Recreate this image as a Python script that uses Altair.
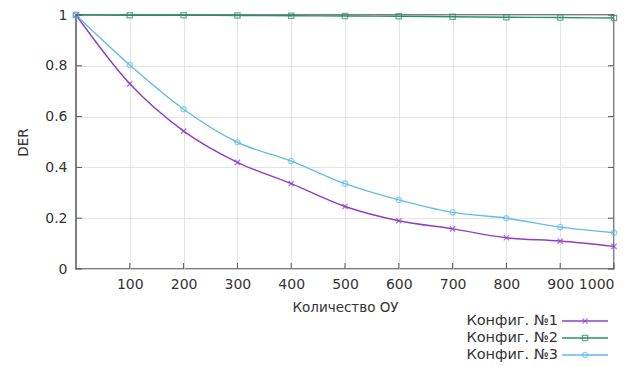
import altair as alt
import pandas as pd

x_vals = [0, 100, 200, 300, 400, 500, 600, 700, 800, 900, 1000]
cfg1 = [1.0, 0.729, 0.543, 0.42, 0.336, 0.246, 0.19, 0.158, 0.123, 0.11, 0.089]
cfg2 = [1.0, 0.999, 0.999, 0.998, 0.997, 0.996, 0.995, 0.993, 0.991, 0.99, 0.988]
cfg3 = [1.0, 0.803, 0.629, 0.499, 0.425, 0.336, 0.272, 0.223, 0.2, 0.165, 0.143]
series = ["Конфиг. №1", "Конфиг. №2", "Конфиг. №3"]
colors = ["#8e3fc6", "#2a8f70", "#62bde6"]
shapes = ["M-1,-1L1,1M-1,1L1,-1", "square", "circle"]
x_ticks = [100, 200, 300, 400, 500, 600, 700, 800, 900, 1000]
y_ticks = [0, 0.2, 0.4, 0.6, 0.8, 1]

rows = []
for name, vals in zip(series, [cfg1, cfg2, cfg3]):
    for xv, yv in zip(x_vals, vals):
        rows.append({"x": xv, "y": yv, "s": name})
df = pd.DataFrame(rows)
leg = pd.DataFrame({"s": series})
yt = pd.DataFrame({"v": y_ticks})
xt = pd.DataFrame({"v": x_ticks})

color = alt.Color("s:N", scale=alt.Scale(domain=series, range=colors), legend=None)
shape = alt.Shape("s:N", scale=alt.Scale(domain=series, range=shapes), legend=None)

xs = alt.X("x:Q", scale=alt.Scale(domain=[0, 1000], nice=False),
           axis=alt.Axis(values=x_ticks, format="d", title="Количество ОУ", ticks=False,
                         labelPadding=8, titlePadding=9, domain=False,
                         gridColor="#dddddd", gridWidth=0.8))
ys = alt.Y("y:Q", scale=alt.Scale(domain=[0, 1], nice=False),
           axis=alt.Axis(values=y_ticks, format="~g", title="DER", ticks=False,
                         labelPadding=9, titlePadding=14, domain=False,
                         gridColor="#dddddd", gridWidth=0.8))

base = alt.Chart(df)
lines = base.mark_line(interpolate="monotone", strokeWidth=1.4).encode(x=xs, y=ys, color=color)
pts = base.mark_point(size=28, strokeWidth=1.3).encode(x="x:Q", y="y:Q", color=color, shape=shape)

# inward tick marks
lt = alt.Chart(yt).mark_rule(color="#555555", strokeWidth=1).encode(
    y=alt.Y("v:Q"), x=alt.value(0), x2=alt.value(6))
rt = alt.Chart(yt).mark_rule(color="#555555", strokeWidth=1).encode(
    y=alt.Y("v:Q"), x=alt.value(532), x2=alt.value(538))
bt = alt.Chart(xt).mark_rule(color="#555555", strokeWidth=1).encode(
    x=alt.X("v:Q"), y=alt.value(254), y2=alt.value(248))

main = alt.layer(lines, pts, lt, rt, bt)

ly = alt.Y("s:N", scale=alt.Scale(domain=series, type="point", range=[306, 340], padding=0), axis=None)
ltext = alt.Chart(leg).mark_text(align="right", baseline="middle", fontSize=14.5,
                                 font="DejaVu Sans", color="#333333").encode(
    y=ly, x=alt.value(482), text="s:N")
lrule = alt.Chart(leg).mark_rule(strokeWidth=1.4).encode(
    y=ly, x=alt.value(486), x2=alt.value(532), color=color)
lpt = alt.Chart(leg).mark_point(size=28, strokeWidth=1.3).encode(
    y=ly, x=alt.value(509), color=color, shape=shape)
legend = alt.layer(ltext, lrule, lpt)

chart = alt.layer(main, legend).resolve_scale(y="independent").properties(
    width=538, height=254,
    padding={"left": 68, "top": 7, "right": 8, "bottom": 94},
    autosize=alt.AutoSizeParams(type="none"),
).configure_view(stroke="#555555", strokeWidth=1.5).configure_axis(
    labelFont="DejaVu Sans", titleFont="DejaVu Sans", labelFontSize=14,
    titleFontSize=13.5, titleFontWeight="normal", labelColor="#333333",
    titleColor="#333333")

chart.save("out.html", embed_options={"renderer": "svg", "actions": False})
